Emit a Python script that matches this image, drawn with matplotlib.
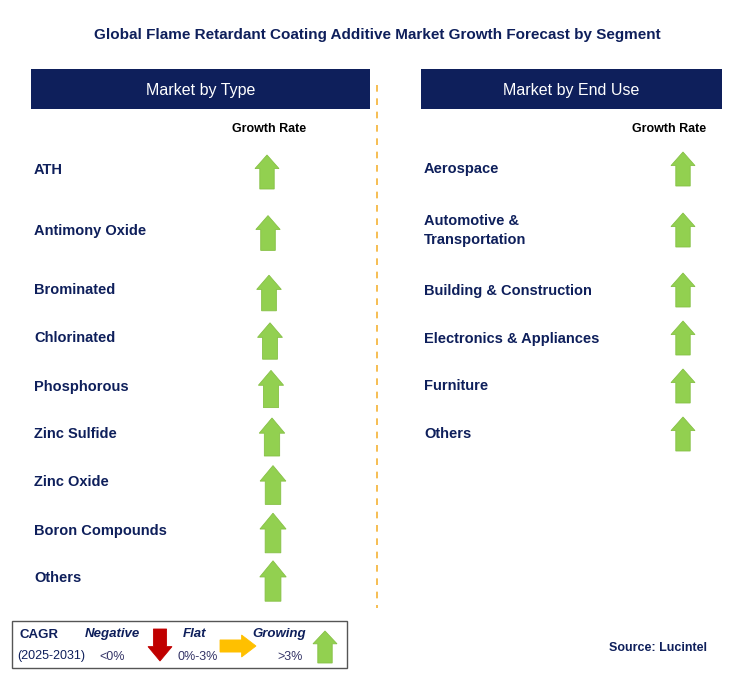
import matplotlib.pyplot as plt
from matplotlib.patches import Rectangle, Polygon

plt.rcParams['font.family'] = 'Liberation Sans'

title = 'Global Flame Retardant Coating Additive Market Growth Forecast by Segment'
type_labels = ['ATH', 'Antimony Oxide', 'Brominated', 'Chlorinated', 'Phosphorous',
               'Zinc Sulfide', 'Zinc Oxide', 'Boron Compounds', 'Others']
type_trend = ['up'] * 9
use_labels = ['Aerospace', 'Automotive &\nTransportation', 'Building & Construction',
              'Electronics & Appliances', 'Furniture', 'Others']
use_trend = ['up'] * 6

navy = '#0E1F5B'
green = '#92D050'

fig = plt.figure(figsize=(7.41, 6.83), dpi=100)
ax = fig.add_axes([0, 0, 1, 1])
ax.set_xlim(0, 741)
ax.set_ylim(683, 0)
ax.axis('off')


def up_arrow(x, y, w=24, h=34, color=green):
    sw = w * 0.6
    head = h * 0.4
    pts = [(x - sw / 2, y + h / 2), (x + sw / 2, y + h / 2), (x + sw / 2, y - h / 2 + head),
           (x + w / 2, y - h / 2 + head), (x, y - h / 2), (x - w / 2, y - h / 2 + head),
           (x - sw / 2, y - h / 2 + head)]
    ax.add_patch(Polygon(pts, closed=True, fc=color, ec='#86C045', lw=0.6))


def down_arrow(x, y, w=24, h=34, color='#C00000'):
    sw = w * 0.55
    head = h * 0.45
    pts = [(x - sw / 2, y - h / 2), (x + sw / 2, y - h / 2), (x + sw / 2, y + h / 2 - head),
           (x + w / 2, y + h / 2 - head), (x, y + h / 2), (x - w / 2, y + h / 2 - head),
           (x - sw / 2, y + h / 2 - head)]
    ax.add_patch(Polygon(pts, closed=True, fc=color, ec=color, lw=0.6))


def right_arrow(x, y, w=36, h=22, color='#FFC000'):
    sh = h * 0.55
    head = w * 0.4
    pts = [(x - w / 2, y - sh / 2), (x + w / 2 - head, y - sh / 2), (x + w / 2 - head, y - h / 2),
           (x + w / 2, y), (x + w / 2 - head, y + h / 2), (x + w / 2 - head, y + sh / 2),
           (x - w / 2, y + sh / 2)]
    ax.add_patch(Polygon(pts, closed=True, fc=color, ec=color, lw=0.6))


ax.text(377, 35, title, ha='center', va='center', fontsize=11, fontweight='bold', color=navy)

# headers
for x0, x1, txt in [(31, 370, 'Market by Type'), (421, 722, 'Market by End Use')]:
    ax.add_patch(Rectangle((x0, 69), x1 - x0, 40, fc=navy, ec='none'))
    ax.text((x0 + x1) / 2, 90, txt, ha='center', va='center', fontsize=11.5, color='white')

ax.text(269, 129, 'Growth Rate', ha='center', va='center', fontsize=9, fontweight='bold', color='black')
ax.text(669, 129, 'Growth Rate', ha='center', va='center', fontsize=9, fontweight='bold', color='black')

ax.plot([377, 377], [85, 608], color='#F5B335', lw=1.2, ls=(0, (4, 4)))

type_y = [168, 229, 289, 337, 385, 433, 481, 529, 577]
type_x = [267, 268, 269, 270, 271, 272, 273, 273, 273]
for i, (lab, tr, y, x) in enumerate(zip(type_labels, type_trend, type_y, type_x)):
    ax.text(34, y + 1.5, lab, ha='left', va='center', fontsize=10.5, fontweight='bold', color=navy)
    if tr == 'up':
        up_arrow(x, y + 4, w=24 + i * 0.3, h=34 + i * 0.8)

use_y = [168, 229, 289, 337, 385, 433]
for lab, tr, y in zip(use_labels, use_trend, use_y):
    ax.text(424, y + 1.5, lab, ha='left', va='center', fontsize=10.5, fontweight='bold', color=navy,
            linespacing=1.5)
    if tr == 'up':
        up_arrow(683, y + 1)

# legend
ax.add_patch(Rectangle((12, 621), 335, 47, fc='white', ec='#555555', lw=1))
ax.text(19, 635, 'CAGR', ha='left', va='center', fontsize=9.5, fontweight='bold', color=navy)
ax.text(17, 656, '(2025-2031)', ha='left', va='center', fontsize=9, color=navy)
ax.text(112, 634, 'Negative', ha='center', va='center', fontsize=9.5, fontweight='bold',
        style='italic', color=navy)
ax.text(112, 657, '<0%', ha='center', va='center', fontsize=9, color='#333366')
down_arrow(160, 645, w=24, h=32)
ax.text(195, 634, 'Flat', ha='center', va='center', fontsize=9.5, fontweight='bold',
        style='italic', color=navy)
ax.text(198, 657, '0%-3%', ha='center', va='center', fontsize=9, color='#333366')
right_arrow(238, 646, w=36, h=22)
ax.text(279, 634, 'Growing', ha='center', va='center', fontsize=9.5, fontweight='bold',
        style='italic', color=navy)
ax.text(290, 657, '>3%', ha='center', va='center', fontsize=9, color='#333366')
up_arrow(325, 647, w=24, h=32)

ax.text(707, 648, 'Source: Lucintel', ha='right', va='center', fontsize=9, fontweight='bold', color=navy)

fig.savefig('out.png', dpi=100)
